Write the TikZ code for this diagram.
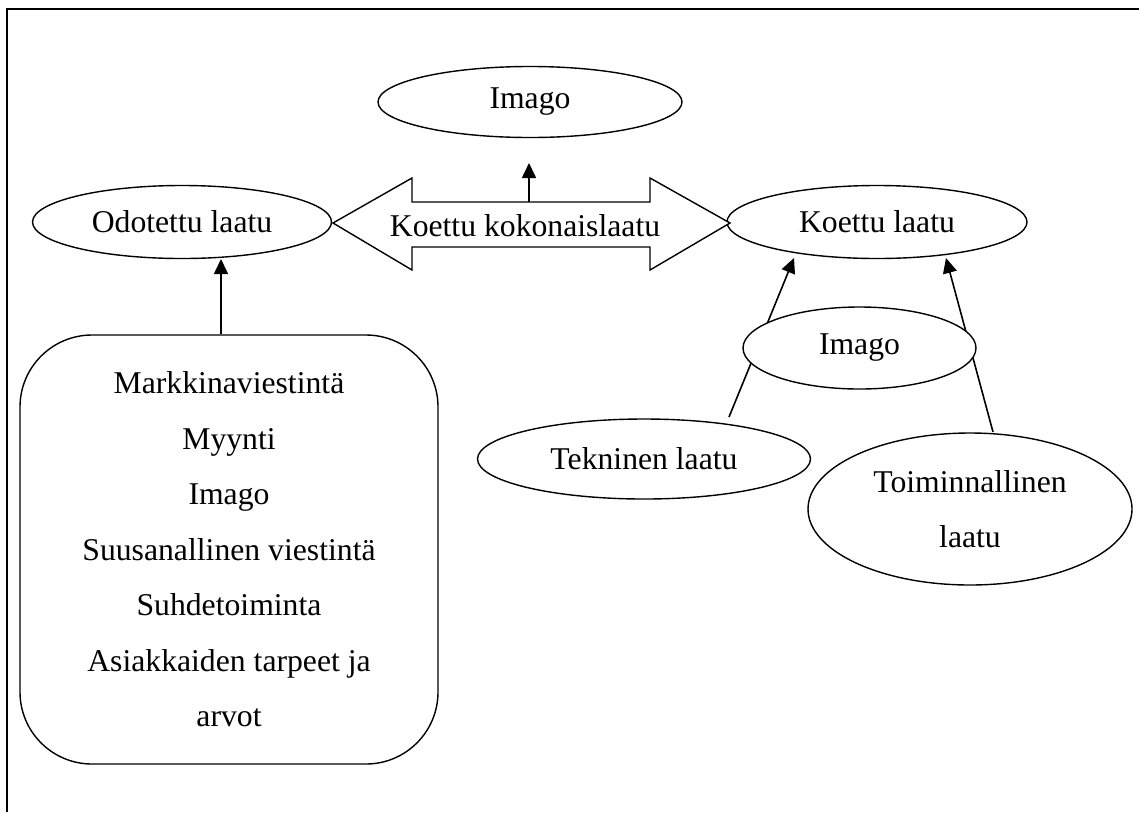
\documentclass[tikz,border=0pt]{standalone}
\usepackage{fontspec}
\setmainfont{Liberation Serif}
\usetikzlibrary{shapes.geometric,arrows.meta}
\begin{document}
\begin{tikzpicture}[x=1pt,y=-1pt,
  every node/.style={font=\fontsize{31.7}{55.5}\selectfont},
  oval/.style={ellipse, draw, line width=1.4pt, fill=white, inner sep=0pt},
  arr/.style={line width=1.6pt, -{Triangle[length=15pt,width=14pt]}},
  bigarrow/.style={draw, line width=1.4pt, fill=white, line join=miter},
]
\useasboundingbox (0,0) rectangle (1139,812);
% frame
\draw[line width=2.2pt] (7,812) -- (7,9) -- (1139,9);

% top ellipses
\node[oval, minimum width=304pt, minimum height=71pt] (imtop) at (530,102) {Imago};
\node[oval, minimum width=299pt, minimum height=73pt] (odo) at (182,222) {Odotettu laatu};
\node[oval, minimum width=300pt, minimum height=73pt] (koe) at (877,222) {Koettu laatu};

% double arrow
\draw[bigarrow] (333,223) -- (412,178) -- (412,202) -- (650,202) -- (650,178)
  -- (730,223) -- (650,270) -- (650,247) -- (412,247) -- (412,270) -- cycle;
\node (kok) at (525,226) {Koettu kokonaislaatu};
\coordinate (kokTop) at (529,202);
\coordinate (imtopTip) at (529,163);
\draw[arr] (kokTop) -- (imtopTip);

% left box
\node[draw, line width=1.4pt, rounded corners=72pt, minimum width=418pt,
      minimum height=429pt, inner sep=0pt, align=center] (box) at (229,549.5)
  {Markkinaviestintä\\Myynti\\Imago\\Suusanallinen viestintä\\Suhdetoiminta\\Asiakkaiden tarpeet ja\\arvot};
\coordinate (boxTop) at (221,334);
\coordinate (odoBottom) at (221,259);
\draw[arr] (boxTop) -- (odoBottom);

% right side
\node[oval, minimum width=333pt, minimum height=80pt] (tek) at (644,459) {Tekninen laatu};
\node[oval, minimum width=324pt, minimum height=152pt, align=center] (toim) at (970,509) {Toiminnallinen\\laatu};
\coordinate (tekTop) at (729,417);
\coordinate (koeL) at (794,258);
\coordinate (toimTop) at (993,432);
\coordinate (koeR) at (946,258);
\draw[arr] (tekTop) -- (koeL);
\draw[arr] (toimTop) -- (koeR);
\node[oval, minimum width=233pt, minimum height=82pt] (immid) at (859.5,348) {Imago};
\end{tikzpicture}
\end{document}
